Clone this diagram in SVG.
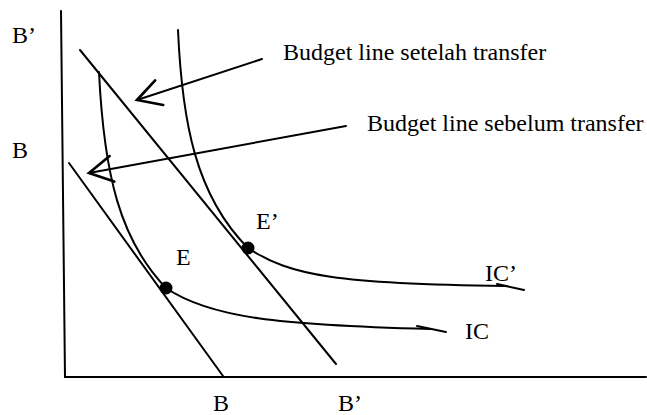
<svg xmlns="http://www.w3.org/2000/svg" width="647" height="415" viewBox="0 0 647 415">
<style>
.ln{fill:none;stroke:#000;stroke-width:2;stroke-linecap:round}
.t{font-family:"Liberation Serif","Times New Roman",serif;font-size:24px;fill:#000}
</style>
<defs>
<marker id="arr" markerUnits="userSpaceOnUse" markerWidth="40" markerHeight="40" viewBox="-25 -15 30 30" refX="0" refY="0" orient="auto" overflow="visible">
<path d="M-17.5,-9.7 L0,0 L-17.5,9.7" fill="none" stroke="#000" stroke-width="2" stroke-linecap="round"/>
</marker>
</defs>
<rect width="647" height="415" fill="#fff"/>
<g id="axes">
<path class="ln" d="M61,11 L65,377 L646,377"/>
</g>
<g id="budget-before">
<path class="ln" d="M69,163 L223,376"/>
</g>
<g id="budget-after">
<path class="ln" d="M80,50 L336,364"/>
</g>
<g id="ic">
<path class="ln" d="M99,72 C104,175 120,240 166,288 C210,318 280,325 430,329"/>
<path class="ln" d="M417,326 L446,332" stroke-width="2.5"/>
</g>
<g id="ic-prime">
<path class="ln" d="M178,30 C182,120 195,195 248,248 C290,276 340,284 505,286"/>
<path class="ln" d="M497,284 L524,290" stroke-width="2.5"/>
</g>
<g id="point-e">
<circle cx="166" cy="288" r="6.5" fill="#000"/>
</g>
<g id="point-e-prime">
<circle cx="248" cy="248" r="6.5" fill="#000"/>
</g>
<g id="connectors">
<path class="ln" d="M262,59 L137,100" marker-end="url(#arr)"/>
<path class="ln" d="M346,126 L89,173" marker-end="url(#arr)"/>
</g>
<g id="labels">
<text class="t" x="12" y="43">B’</text>
<text class="t" x="12" y="158">B</text>
<text class="t" x="176" y="265">E</text>
<text class="t" x="256" y="229">E’</text>
<text class="t" x="213" y="411">B</text>
<text class="t" x="338" y="411">B’</text>
<text class="t" x="485" y="281">IC’</text>
<text class="t" x="465" y="339">IC</text>
<text class="t" x="283" y="60">Budget line setelah transfer</text>
<text class="t" x="367" y="131">Budget line sebelum transfer</text>
</g>
</svg>
